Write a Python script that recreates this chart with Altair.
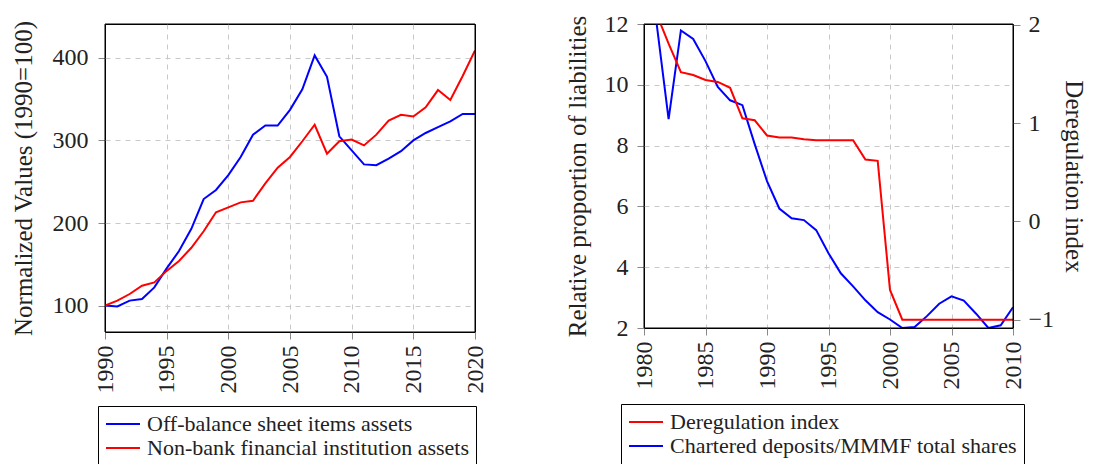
import altair as alt
import pandas as pd

# ---------------- data ----------------
years_left = list(range(1990, 2021))
off_balance = [100, 99, 106, 108, 122, 145, 166, 193, 229, 240, 258, 280, 307, 318,
               318, 337, 362, 403, 377, 305, 288, 271, 270, 278, 287, 300, 309, 316,
               323, 332, 332]
non_bank = [100, 106, 114, 124, 128, 142, 154, 170, 190, 213, 219, 225, 227, 248,
            267, 280, 299, 319, 284, 299, 301, 294, 307, 324, 331, 329, 340, 361,
            349, 378, 409]
left_series = ["Off-balance sheet items assets", "Non-bank financial institution assets"]

years_right = list(range(1980, 2011))
chartered = [13.5, 12.1, 8.87, 11.79, 11.51, 10.78, 9.93, 9.49, 9.33, 8.05, 6.83, 5.93,
             5.61, 5.55, 5.22, 4.46, 3.80, 3.37, 2.91, 2.52, 2.28, 2.00, 2.03, 2.39,
             2.80, 3.04, 2.90, 2.47, 2.00, 2.09, 2.68]
dereg = [2.43, 2.12, 1.81, 1.52, 1.49, 1.44, 1.42, 1.36, 1.05, 1.03, 0.875, 0.854,
         0.854, 0.837, 0.827, 0.827, 0.827, 0.827, 0.63, 0.617, -0.698, -1.0, -1.0,
         -1.0, -1.0, -1.0, -1.0, -1.0, -1.0, -1.0, -1.0]
right_series = ["Deregulation index", "Chartered deposits/MMMF total shares"]

RED = "#ff0000"
BLUE = "#0000ff"
FONT = "Liberation Serif"
TXT = "#222222"

W_L, H_L = 370, 308
W_R, H_R = 369, 304

df_left = pd.DataFrame({
    "year": years_left * 2,
    "value": off_balance + non_bank,
    "series": [left_series[0]] * len(years_left) + [left_series[1]] * len(years_left),
})
df_chart = pd.DataFrame({"year": years_right, "value": chartered,
                         "series": right_series[1]})
df_dereg = pd.DataFrame({"year": years_right, "value": dereg,
                         "series": right_series[0]})
df_frame = pd.DataFrame({"f": [0]})

lab_kw = dict(labelFont=FONT, labelFontSize=24, labelColor=TXT,
              titleFont=FONT, titleFontSize=25, titleFontWeight="normal", titleColor=TXT,
              tickColor="#888888", tickSize=7, domain=False, zindex=0)


def grid_kw(lo, hi):
    # dashed grid, hidden on the frame edges so the frame stays solid
    return dict(grid=True, gridDash=[5, 5], gridColor="#c8c8c8", gridWidth=1,
                gridOpacity=alt.condition(f"datum.value == {lo} || datum.value == {hi}",
                                          alt.value(0), alt.value(1)))


def legend(x, y):
    return alt.Legend(orient="none", legendX=x, legendY=y, title=None,
                      strokeColor="black", padding=7,
                      symbolType="M-1,0H2.4", symbolSize=400, symbolStrokeWidth=2,
                      labelFont=FONT, labelFontSize=22, labelColor=TXT, labelLimit=0,
                      labelOffset=20, rowPadding=2)


def frame(w, h):
    return alt.Chart(df_frame).mark_rect(fillOpacity=0, stroke="black", strokeWidth=1).encode(
        x=alt.value(0), x2=alt.value(w), y=alt.value(0), y2=alt.value(h))


# ---------------- left chart ----------------
x_left = alt.X("year:Q", title=None,
               scale=alt.Scale(domain=[1990, 2020], nice=False, zero=False),
               axis=alt.Axis(values=list(range(1990, 2021, 5)), format="d",
                             labelAngle=270, labelPadding=6, **grid_kw(1990, 2020), **lab_kw))
y_left = alt.Y("value:Q", title="Normalized Values (1990=100)",
               scale=alt.Scale(domain=[68, 441], nice=False, zero=False),
               axis=alt.Axis(values=[100, 200, 300, 400], labelPadding=10,
                             titlePadding=16, **grid_kw(68, 441), **lab_kw))
left_lines = alt.Chart(df_left).mark_line(strokeWidth=2, clip=True).encode(
    x=x_left, y=y_left,
    color=alt.Color("series:N", scale=alt.Scale(domain=left_series, range=[BLUE, RED]),
                    legend=legend(-7, 382)),
    order=alt.Order("year:Q"),
)
left = alt.layer(left_lines, frame(W_L, H_L)).properties(width=W_L, height=H_L)

# ---------------- right chart ----------------
x_right = alt.X("year:Q", title=None,
                scale=alt.Scale(domain=[1980, 2010], nice=False, zero=False),
                axis=alt.Axis(values=list(range(1980, 2011, 5)), format="d",
                              labelAngle=270, labelPadding=6, **grid_kw(1980, 2010), **lab_kw))
color_right = alt.Color("series:N",
                        scale=alt.Scale(domain=right_series, range=[RED, BLUE]),
                        legend=legend(-23, 380))

blue_line = alt.Chart(df_chart).mark_line(strokeWidth=2, clip=True).encode(
    x=x_right,
    y=alt.Y("value:Q", title="Relative proportion of liabilities",
            scale=alt.Scale(domain=[2, 12], nice=False, zero=False),
            axis=alt.Axis(values=[2, 4, 6, 8, 10, 12], labelPadding=9,
                          titlePadding=14, **grid_kw(2, 12), **lab_kw)),
    color=color_right,
)
red_line = alt.Chart(df_dereg).mark_line(strokeWidth=2, clip=True).encode(
    x=x_right,
    y=alt.Y("value:Q", title="Deregulation index",
            scale=alt.Scale(domain=[-1.085, 2.01], nice=False, zero=False),
            axis=alt.Axis(orient="right", values=[-1, 0, 1, 2], grid=False,
                          labelPadding=8, titlePadding=7, **lab_kw)),
    color=color_right,
)
right = alt.layer(blue_line, red_line, frame(W_R, H_R)).resolve_scale(
    y="independent").properties(width=W_R, height=H_R)

chart = alt.hconcat(left, right, spacing=76).resolve_scale(
    color="independent"
).resolve_legend(color="independent").configure_view(
    stroke="black", strokeWidth=1
).properties(padding={"left": 2, "top": 3, "right": 0, "bottom": 0})

chart.save("out.html", embed_options={"renderer": "svg", "actions": False})
